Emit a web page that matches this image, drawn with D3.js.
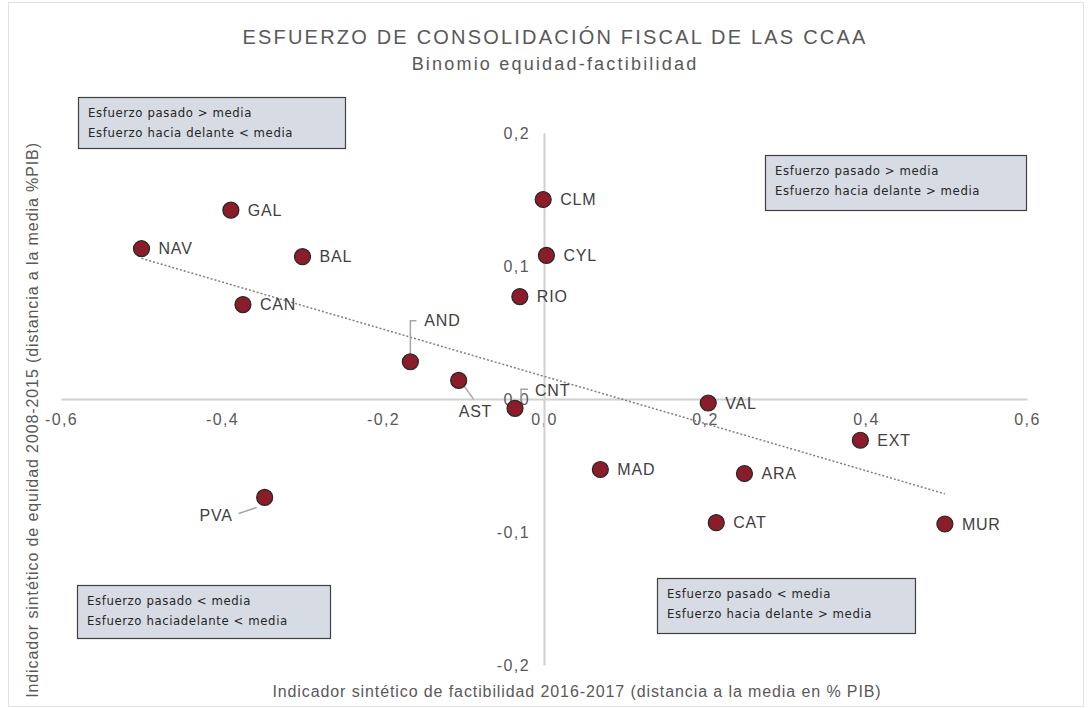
<!DOCTYPE html>
<html>
<head>
<meta charset="utf-8">
<script src="https://cdn.jsdelivr.net/npm/d3@7"></script>
<style>
  body { margin: 0; background: #fff; }
  text { font-family: "Liberation Sans", Arial, sans-serif; }
</style>
</head>
<body>
<div id="chart"></div>
<script>
const width = 1089,
    height = 708;

// data: distance to the mean (% PIB)
const regions = ["NAV", "GAL", "BAL", "CAN", "AND", "AST", "CNT", "CLM", "CYL", "RIO", "VAL", "EXT", "MAD", "ARA", "CAT", "MUR", "PVA"];
const factibilidad = [-0.500, -0.389, -0.300, -0.374, -0.166, -0.106, -0.036, -0.001, 0.003, -0.030, 0.204, 0.393, 0.070, 0.249, 0.214, 0.498, -0.347];
const equidad = [0.113, 0.142, 0.107, 0.071, 0.028, 0.014, -0.007, 0.150, 0.108, 0.077, -0.003, -0.031, -0.053, -0.056, -0.093, -0.094, -0.074];

const xTicks = [-0.6, -0.4, -0.2, 0, 0.2, 0.4, 0.6];
const yTicks = [-0.2, -0.1, 0, 0.1, 0.2];

const quadrantNotes = [
    ["Esfuerzo pasado > media", "Esfuerzo hacia delante < media"],
    ["Esfuerzo pasado > media", "Esfuerzo hacia delante > media"],
    ["Esfuerzo pasado < media", "Esfuerzo haciadelante  < media"],
    ["Esfuerzo pasado < media", "Esfuerzo hacia delante > media"]
];

// placement of the note boxes [x, y, w, h]
const noteBoxes = [[78, 97, 267, 51], [765, 155, 261, 55], [77, 585, 253, 53], [657, 578, 258, 55]];

// label placement, leader lines are relative to the point
const labelPos = {
    AND: { dx: 14, dy: -41, leader: [[0, -8], [0, -41], [6, -41]] },
    AST: { dx: 0, dy: 31, anchor: "start", leader: [[5, 5], [15, 19]] },
    CNT: { dx: 20, dy: -18, leader: [[6, -7], [6, -19], [13, -19]] },
    PVA: { dx: -32, dy: 18, anchor: "end", leader: [[-8, 10], [-26, 16]] }
};

const fmt = d => d3.format(".1f")(d).replace(".", ",").replace("−", "-");

const svg = d3.select("#chart").append("svg")
    .attr("width", width)
    .attr("height", height);

svg.append("rect")
    .attr("x", 8.5).attr("y", 2.5)
    .attr("width", width - 14).attr("height", height - 4)
    .attr("fill", "none")
    .attr("stroke", "#e3e3e3");

const x = d3.scaleLinear().domain([-0.6, 0.6]).range([61, 1027]);
const y = d3.scaleLinear().domain([-0.2, 0.2]).range([665, 133]);

// titles
svg.append("text")
    .attr("x", 555).attr("y", 44)
    .attr("text-anchor", "middle")
    .attr("fill", "#595959")
    .style("font-size", "20px")
    .style("letter-spacing", "2.2px")
    .text("ESFUERZO DE CONSOLIDACIÓN  FISCAL DE LAS CCAA");

svg.append("text")
    .attr("x", 555).attr("y", 70)
    .attr("text-anchor", "middle")
    .attr("fill", "#595959")
    .style("font-size", "18px")
    .style("letter-spacing", "2.2px")
    .text("Binomio  equidad-factibilidad");

// axes
const xAxis = svg.append("g")
    .attr("transform", `translate(0,${y(0)})`)
    .call(d3.axisBottom(x).tickValues(xTicks).tickSize(0).tickPadding(15).tickFormat(fmt));

const yAxis = svg.append("g")
    .attr("transform", `translate(${x(0)},0)`)
    .call(d3.axisLeft(y).tickValues(yTicks).tickSize(0).tickPadding(14).tickFormat(fmt));

[xAxis, yAxis].forEach(a => {
    a.select(".domain").attr("stroke", "#d0d0d0").attr("stroke-width", 2);
    a.selectAll("text")
        .attr("fill", "#595959")
        .style("font-size", "16px")
        .style("letter-spacing", "1.4px")
        .style("font-family", "'Liberation Sans', Arial, sans-serif");
});

svg.append("text")
    .attr("x", 577).attr("y", 697)
    .attr("text-anchor", "middle")
    .attr("fill", "#595959")
    .style("font-size", "16px")
    .style("letter-spacing", "0.9px")
    .text("Indicador sintético de factibilidad 2016-2017 (distancia a la media en % PIB)");

svg.append("text")
    .attr("transform", "translate(38,420) rotate(-90)")
    .attr("text-anchor", "middle")
    .attr("fill", "#595959")
    .style("font-size", "16px")
    .style("letter-spacing", "0.9px")
    .text("Indicador sintético de equidad 2008-2015 (distancia a la media %PIB)");

// linear trend (least squares on the data)
const mx = d3.mean(factibilidad),
    my = d3.mean(equidad);
const slope = d3.sum(factibilidad, (d, i) => (d - mx) * (equidad[i] - my)) / d3.sum(factibilidad, d => (d - mx) ** 2);
const intercept = my - slope * mx;
const xExt = d3.extent(factibilidad);

svg.append("path")
    .attr("d", d3.line()(xExt.map(v => [x(v), y(intercept + slope * v)])))
    .attr("stroke", "#7f7f7f")
    .attr("stroke-width", 1.5)
    .attr("stroke-dasharray", "2,2")
    .attr("fill", "none");

// quadrant notes
noteBoxes.forEach((b, i) => {
    const g = svg.append("g").attr("transform", `translate(${b[0]},${b[1]})`);
    g.append("rect")
        .attr("x", 0.5).attr("y", 0.5)
        .attr("width", b[2]).attr("height", b[3])
        .attr("fill", "#d6dbe4")
        .attr("stroke", "#404040")
        .attr("stroke-width", 1.2);
    quadrantNotes[i].forEach((line, j) => {
        g.append("text")
            .attr("x", 10)
            .attr("y", 20 + j * 20)
            .attr("fill", "#262626")
            .style("font-family", "'Liberation Sans Narrow', 'DejaVu Sans Condensed', sans-serif")
            .style("font-size", "13px")
            .style("letter-spacing", "0.6px")
            .text(line);
    });
});

// points
const data = regions.map((r, i) => ({ name: r, x: factibilidad[i], y: equidad[i] }));

const pts = svg.append("g").selectAll("g")
    .data(data)
    .join("g")
    .attr("transform", d => `translate(${x(d.x)},${y(d.y)})`);

pts.filter(d => labelPos[d.name] && labelPos[d.name].leader)
    .append("path")
    .attr("d", d => d3.line()(labelPos[d.name].leader))
    .attr("stroke", "#a6a6a6")
    .attr("stroke-width", 1.5)
    .attr("fill", "none");

pts.append("circle")
    .attr("r", 8)
    .attr("fill", "#8b1c2a")
    .attr("stroke", "#262626")
    .attr("stroke-width", 1.2);

pts.append("text")
    .attr("x", d => labelPos[d.name] ? labelPos[d.name].dx : 17)
    .attr("y", d => labelPos[d.name] ? labelPos[d.name].dy : 0)
    .attr("dy", "0.35em")
    .attr("text-anchor", d => labelPos[d.name] && labelPos[d.name].anchor === "end" ? "end" : "start")
    .attr("fill", "#404040")
    .style("font-size", "16px")
    .style("letter-spacing", "0.8px")
    .text(d => d.name);
</script>
</body>
</html>
